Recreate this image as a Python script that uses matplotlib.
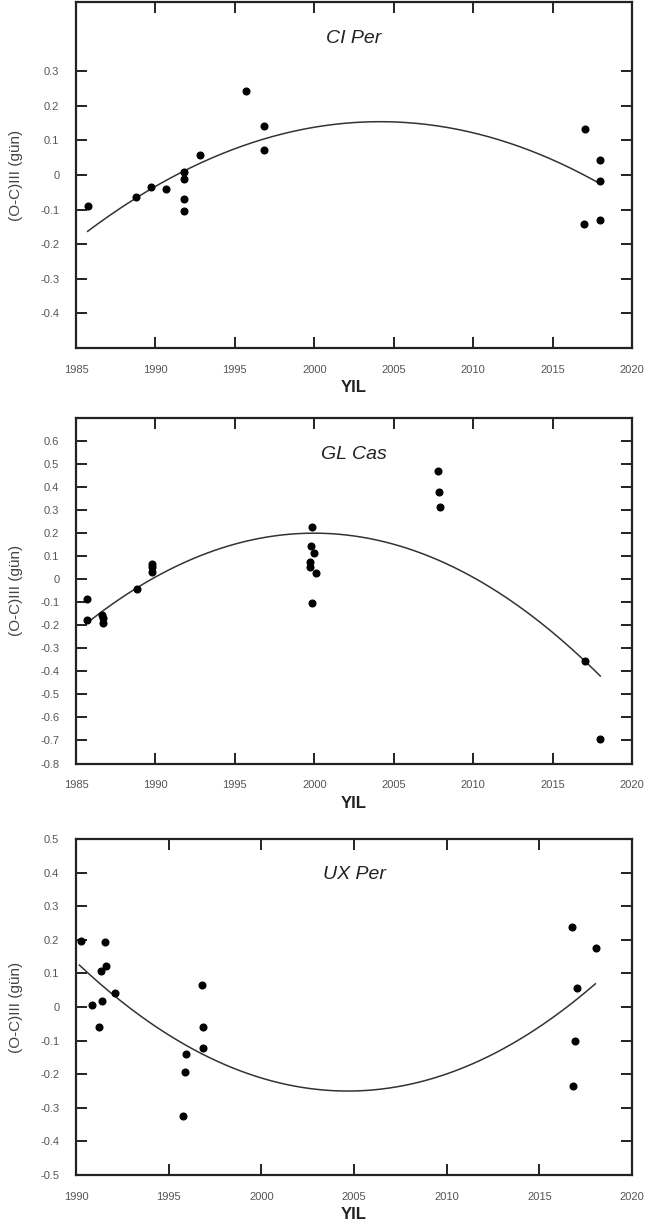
import numpy as np
import matplotlib
matplotlib.use("Agg")
import matplotlib.pyplot as plt

plt.rcParams["font.family"] = ["Liberation Sans", "DejaVu Sans"]

# CI Per
ci_year = [1985.73, 1988.80, 1989.72, 1990.68, 1991.82, 1991.82, 1991.82, 1991.82,
           1992.80, 1995.71, 1996.83, 1996.83, 2017.05, 2016.95, 2018.00, 2017.96, 2017.96]
ci_oc = [-0.090, -0.063, -0.036, -0.040, 0.010, -0.013, -0.068, -0.105,
         0.059, 0.244, 0.142, 0.071, 0.134, -0.142, 0.042, -0.016, -0.131]
# quadratic fit: vertex year, vertex value, curvature, fit range
ci_fit = dict(x0=2004.14, y0=0.154, a=-9.35e-4, start=1985.73, end=2017.94)

# GL Cas
gl_year = [1985.71, 1985.71, 1986.61, 1986.68, 1986.68, 1988.82, 1989.80, 1989.80, 1989.80,
           1999.86, 1999.78, 1999.99, 1999.70, 1999.74, 2000.10, 1999.86,
           2007.79, 2007.87, 2007.92, 2017.05, 2017.98]
gl_oc = [-0.084, -0.175, -0.156, -0.170, -0.189, -0.043, 0.068, 0.053, 0.032,
         0.226, 0.143, 0.114, 0.075, 0.053, 0.027, -0.105,
         0.472, 0.380, 0.312, -0.355, -0.694]
gl_fit = dict(x0=1999.98, y0=0.200, a=-1.91e-3, start=1985.71, end=2018.00)

# UX Per
ux_year = [1990.25, 1990.85, 1991.26, 1991.37, 1991.40, 1991.56, 1991.62, 1992.09,
           1995.76, 1995.92, 1995.90, 1996.80, 1996.83, 1996.83,
           2016.77, 2018.04, 2017.05, 2016.91, 2016.84]
ux_oc = [0.198, 0.006, -0.059, 0.106, 0.018, 0.194, 0.122, 0.043,
         -0.323, -0.140, -0.192, 0.065, -0.059, -0.122,
         0.238, 0.176, 0.057, -0.100, -0.236]
ux_fit = dict(x0=2004.66, y0=-0.250, a=1.788e-3, start=1990.18, end=2018.02)

panels = [
    ("CI Per", ci_year, ci_oc, ci_fit, (1985, 2020), (-0.5, 0.5), np.arange(-0.4, 0.31, 0.1),
     [0.114, 0.7157, 0.8336, 0.2827]),
    ("GL Cas", gl_year, gl_oc, gl_fit, (1985, 2020), (-0.8, 0.7), np.arange(-0.8, 0.61, 0.1),
     [0.114, 0.3762, 0.8336, 0.2823]),
    ("UX Per", ux_year, ux_oc, ux_fit, (1990, 2020), (-0.5, 0.5), np.arange(-0.5, 0.51, 0.1),
     [0.114, 0.0400, 0.8336, 0.2745]),
]


def fmt(v):
    v = round(v, 1)
    if abs(v) < 1e-9:
        return "0"
    return f"{v:.1f}"


fig = plt.figure(figsize=(6.67, 12.24), dpi=100)

for name, yr, oc, fit, xlim, ylim, yticks, pos in panels:
    ax = fig.add_axes(pos)
    xs = np.linspace(fit["start"], fit["end"], 200)
    ax.plot(xs, fit["y0"] + fit["a"] * (xs - fit["x0"]) ** 2, color="#333333", lw=1.1)
    ax.plot(yr, oc, "o", color="black", ms=4.8, mec="black")

    ax.set_xlim(*xlim)
    ax.set_ylim(*ylim)
    ax.set_xticks(np.arange(xlim[0], xlim[1] + 1, 5))
    ax.set_yticks(yticks)
    ax.set_yticklabels([fmt(v) for v in yticks])
    ax.tick_params(direction="in", top=True, right=True, length=8, width=1.4,
                   labelsize=8, labelcolor="#555555", pad=12, color="#222222")
    for s in ax.spines.values():
        s.set_linewidth(1.6)
        s.set_color("#222222")

    ax.text(0.5, 0.895, name, transform=ax.transAxes, ha="center", va="center",
            fontsize=14, style="italic", color="#222222")
    ax.set_xlabel("YIL", fontsize=12, fontweight="bold", color="#222222", labelpad=4)
    ax.set_ylabel("(O-C)III (gün)", fontsize=11, color="#444444")
    ax.yaxis.set_label_coords(-0.095, 0.5)

fig.savefig("out.png", dpi=100)
